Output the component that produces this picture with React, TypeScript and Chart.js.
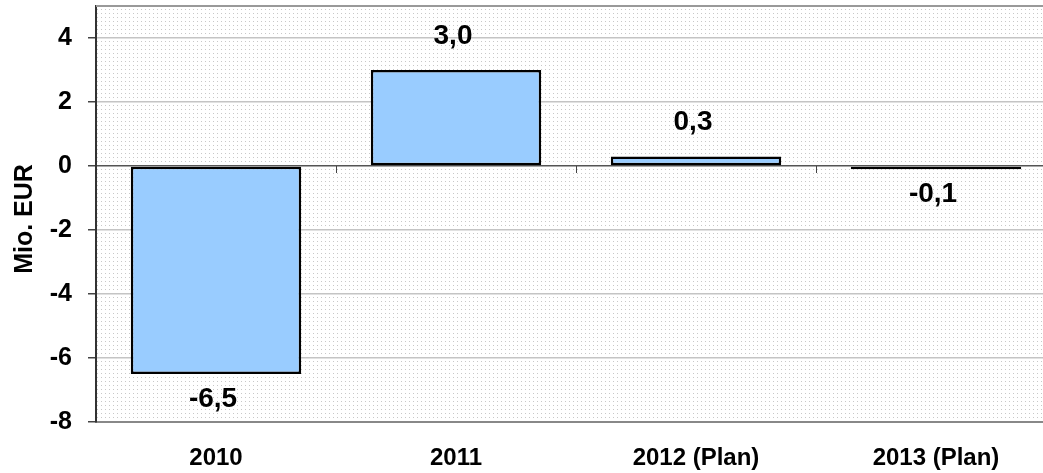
import React, { useEffect, useRef } from "react";
import { Chart, registerables } from "chart.js";

Chart.register(...registerables);

const categories = ["2010", "2011", "2012 (Plan)", "2013 (Plan)"];
const values = [-6.5, 3.0, 0.3, -0.1];
const yTicks = [-8, -6, -4, -2, 0, 2, 4];
const yTitle = "Mio. EUR";

const FONT = "'Liberation Sans', Arial, sans-serif";

const bgPlugin = {
  id: "bgPattern",
  beforeDraw(chart: any) {
    const { ctx, chartArea } = chart;
    const tile = document.createElement("canvas");
    tile.width = 4;
    tile.height = 4;
    const t = tile.getContext("2d")!;
    t.fillStyle = "#ffffff";
    t.fillRect(0, 0, 4, 4);
    t.fillStyle = "#c8c8c8";
    t.fillRect(1, 1, 1, 1);
    const pat = ctx.createPattern(tile, "repeat");
    ctx.save();
    ctx.fillStyle = pat;
    ctx.fillRect(chartArea.left, chartArea.top, chartArea.right - chartArea.left, chartArea.bottom - chartArea.top);
    ctx.restore();
  },
  afterDraw(chart: any) {
    const { ctx, chartArea, scales } = chart;
    const xs = scales.x;
    const ys = scales.y;
    const y0 = ys.getPixelForValue(0);
    ctx.save();
    // top border
    ctx.strokeStyle = "#999999";
    ctx.lineWidth = 2;
    ctx.beginPath();
    ctx.moveTo(chartArea.left, chartArea.top);
    ctx.lineTo(chartArea.right, chartArea.top);
    ctx.stroke();
    // category boundary ticks on zero line
    ctx.strokeStyle = "#444444";
    ctx.lineWidth = 1;
    for (let i = 1; i < categories.length; i++) {
      const x = Math.round((xs.getPixelForValue(i - 1) + xs.getPixelForValue(i)) / 2) + 0.5;
      ctx.beginPath();
      ctx.moveTo(x, y0);
      ctx.lineTo(x, y0 + 7);
      ctx.stroke();
    }
    // title
    ctx.fillStyle = "#000";
    ctx.font = `bold 25px ${FONT}`;
    ctx.translate(25, 219);
    ctx.rotate(-Math.PI / 2);
    ctx.textAlign = "center";
    ctx.textBaseline = "middle";
    ctx.fillText(yTitle, 0, 0);
    ctx.restore();
  },
};

const labelPlugin = {
  id: "valueLabels",
  afterDatasetsDraw(chart: any) {
    const { ctx } = chart;
    const meta = chart.getDatasetMeta(0);
    ctx.save();
    ctx.fillStyle = "#000";
    ctx.font = `bold 28px ${FONT}`;
    ctx.textAlign = "center";
    ctx.textBaseline = "middle";
    meta.data.forEach((bar: any, i: number) => {
      const v = values[i];
      const txt = v.toFixed(1).replace(".", ",");
      const y = v >= 0 ? bar.y - 34 : bar.y + 25;
      ctx.fillText(txt, bar.x - 3, y);
    });
    ctx.restore();
  },
};

export default function App() {
  const ref = useRef<HTMLCanvasElement>(null);
  useEffect(() => {
    const chart = new Chart(ref.current!, {
      type: "bar",
      data: {
        labels: categories,
        datasets: [
          {
            data: values,
            backgroundColor: "#99CCFF",
            borderColor: "#000000",
            borderWidth: 2.5,
            borderSkipped: false,
            categoryPercentage: 1,
            barPercentage: 0.71,
          },
        ],
      },
      options: {
        animation: false,
        responsive: true,
        maintainAspectRatio: false,
        layout: { padding: { top: 6, right: 0, left: 0, bottom: 0 } },
        plugins: { legend: { display: false }, tooltip: { enabled: false } },
        scales: {
          x: {
            offset: true,
            grid: { display: false },
            border: { display: true, color: "#888888", width: 2 },
            ticks: { color: "#000", font: { family: FONT, size: 24, weight: "bold" }, padding: 14, maxRotation: 0, autoSkip: false },
            afterFit(scale: any) {
              scale.height = 51;
              scale.paddingLeft = 0;
              scale.paddingRight = 0;
            },
          },
          y: {
            min: -8,
            max: 5,
            afterBuildTicks(scale: any) {
              scale.ticks = yTicks.map((v) => ({ value: v }));
            },
            grid: {
              color: (c: any) => (c.tick && c.tick.value === 0 ? "#555555" : "#c4c4c4"),
              lineWidth: 1.5,
              tickColor: "#444444",
              tickLength: 8,
            },
            border: { display: true, color: "#333333", width: 2 },
            ticks: { color: "#000", font: { family: FONT, size: 25, weight: "bold" }, padding: 16 },
            afterFit(scale: any) {
              scale.width = 96;
              scale.paddingTop = 0;
              scale.paddingBottom = 0;
            },
          },
        },
      },
      plugins: [bgPlugin, labelPlugin],
    });
    return () => chart.destroy();
  }, []);
  return (
    <div style={{ position: "fixed", left: 0, top: 0, width: 1043, height: 473, overflow: "hidden", background: "#fff" }}>
      <div style={{ position: "relative", width: 1056, height: 473 }}>
        <canvas ref={ref} />
      </div>
    </div>
  );
}
